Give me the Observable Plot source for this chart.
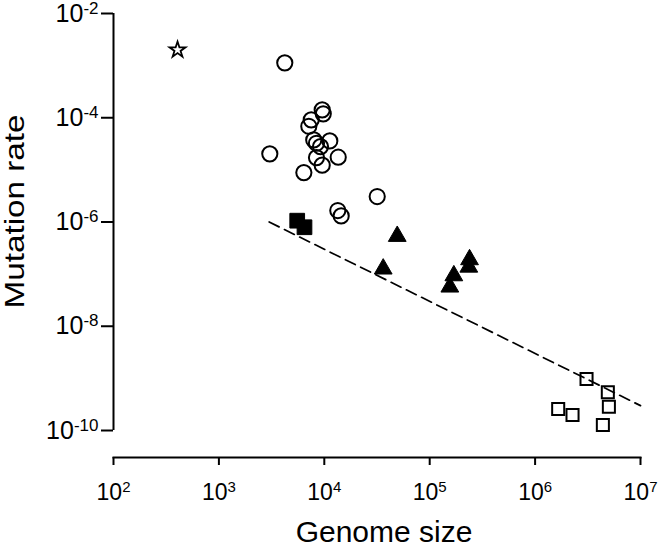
<!DOCTYPE html>
<html><head><meta charset="utf-8">
<script src="https://cdn.jsdelivr.net/npm/d3@7"></script>
<script src="https://cdn.jsdelivr.net/npm/@observablehq/plot@0.6"></script>
<style>html,body{margin:0;padding:0;background:#fff}svg{display:block}</style>
</head><body><div id="chart"></div>
<script>
const xTicks = [1e2, 1e3, 1e4, 1e5, 1e6, 1e7];
const xTickLabels = ["10^2", "10^3", "10^4", "10^5", "10^6", "10^7"];
const yTicks = [1e-10, 1e-8, 1e-6, 1e-4, 1e-2];
const yTickLabels = ["10^-10", "10^-8", "10^-6", "10^-4", "10^-2"];
const xTitle = "Genome size";
const yTitle = "Mutation rate";

// open star
const starGenome = [405];
const starRate = [2.0e-3];
// open circles
const circleGenome = [4217, 9550, 9772, 7516, 7129, 7943, 11272, 8433, 9204, 3041, 13552, 8433, 9550, 6397, 13428, 14454, 31769];
const circleRate = [1.13e-3, 1.42e-4, 1.19e-4, 9.12e-5, 6.87e-5, 3.76e-5, 3.60e-5, 3.24e-5, 2.80e-5, 2.03e-5, 1.75e-5, 1.72e-5, 1.23e-5, 8.87e-6, 1.66e-6, 1.31e-6, 3.08e-6];
// filled squares
const fsquareGenome = [5534, 6486];
const fsquareRate = [1.06e-6, 7.93e-7];
// filled triangles
const triGenome = [49204, 36224, 169434, 155239, 238781, 234963];
const triRate = [5.33e-7, 1.26e-7, 9.35e-8, 5.68e-8, 1.90e-7, 1.37e-7];
// open squares
const osquareGenome = [3.076e6, 4.898e6, 5.012e6, 1.656e6, 2.265e6, 4.395e6];
const osquareRate = [9.75e-10, 5.40e-10, 2.86e-10, 2.59e-10, 1.99e-10, 1.28e-10];
// dashed reference line end points
const lineGenome = [3000, 1e7];
const lineRate = [1.0e-6, 3.0e-10];

const zip = (xs, ys) => xs.map((x, i) => ({g: x, m: ys[i]}));

const fontFamily = "'Liberation Sans', Arial, sans-serif";

const plot = Plot.plot({
  width: 660,
  height: 547,
  marginLeft: 113,
  marginRight: 20,
  marginTop: 13,
  marginBottom: 90,
  style: {fontFamily, background: "white", color: "black"},
  x: {type: "log", domain: [xTicks[0], xTicks[xTicks.length - 1]]},
  y: {type: "log", domain: [yTicks[0], yTicks[yTicks.length - 1]], insetBottom: 27},
  marks: [
    Plot.frame({anchor: "bottom", strokeWidth: 2}),
    Plot.ruleX([xTicks[0]], {y1: yTicks[0], y2: yTicks[yTicks.length - 1], strokeWidth: 2}),
    Plot.axisX({ticks: xTicks, tickSize: 8, tickPadding: 18, strokeWidth: 2,
      tickFormat: (d) => xTickLabels[xTicks.indexOf(d)], label: null}),
    Plot.axisY({ticks: yTicks, tickSize: 12, tickPadding: 3, strokeWidth: 2,
      tickFormat: (d) => yTickLabels[yTicks.indexOf(d)], label: null}),
    Plot.line(zip(lineGenome, lineRate), {x: "g", y: "m", stroke: "black", strokeWidth: 1.7, strokeDasharray: "11,6"}),
    Plot.dot(zip(circleGenome, circleRate), {x: "g", y: "m", symbol: "circle", r: 7.6, stroke: "black", strokeWidth: 2, fill: "none"}),
    Plot.dot(zip(fsquareGenome, fsquareRate), {x: "g", y: "m", symbol: "square", r: 8.3, stroke: "black", strokeWidth: 1, fill: "black"}),
    Plot.dot(zip(triGenome, triRate), {x: "g", y: "m", symbol: "triangle", r: 6.6, stroke: "black", strokeWidth: 1, fill: "black"}),
    Plot.dot(zip(osquareGenome, osquareRate), {x: "g", y: "m", symbol: "square", r: 6.8, stroke: "black", strokeWidth: 2, fill: "none"}),
    Plot.dot(zip(starGenome, starRate), {x: "g", y: "m", symbol: "star", r: 5, stroke: "black", strokeWidth: 1.8, fill: "none"}),
    Plot.text([xTitle], {frameAnchor: "bottom", dx: 7, dy: 84, lineAnchor: "bottom", textAnchor: "middle", fontSize: 30, fill: "black"}),
    Plot.text([yTitle], {frameAnchor: "left", rotate: -90, dx: -90, dy: -24, lineAnchor: "bottom", textAnchor: "middle", fontSize: 28, fill: "black"})
  ]
});

const ns = "http://www.w3.org/2000/svg";
// render superscripts in tick labels
function superscript(selector, baseSize, supSize, raise) {
  plot.querySelectorAll(selector).forEach((t) => {
    const s = t.textContent;
    if (!s.includes("^")) return;
    const [base, exp] = s.split("^");
    t.textContent = "";
    t.setAttribute("font-size", baseSize);
    t.style.fontSize = baseSize + "px";
    const b = document.createElementNS(ns, "tspan");
    b.textContent = base;
    const e = document.createElementNS(ns, "tspan");
    e.textContent = exp;
    e.setAttribute("dy", -raise);
    e.setAttribute("font-size", supSize);
    e.style.fontSize = supSize + "px";
    t.appendChild(b);
    t.appendChild(e);
  });
}
superscript('g[aria-label="x-axis tick label"] text', 23, 15, 8);
superscript('g[aria-label="y-axis tick label"] text', 25, 17, 8);

// stretch the rotated y title along its length as in the reference
plot.querySelectorAll("text").forEach((t) => {
  if (t.textContent === yTitle) {
    t.setAttribute("textLength", 194);
    t.setAttribute("lengthAdjust", "spacingAndGlyphs");
  }
});

document.getElementById("chart").appendChild(plot);
</script>
</body></html>
